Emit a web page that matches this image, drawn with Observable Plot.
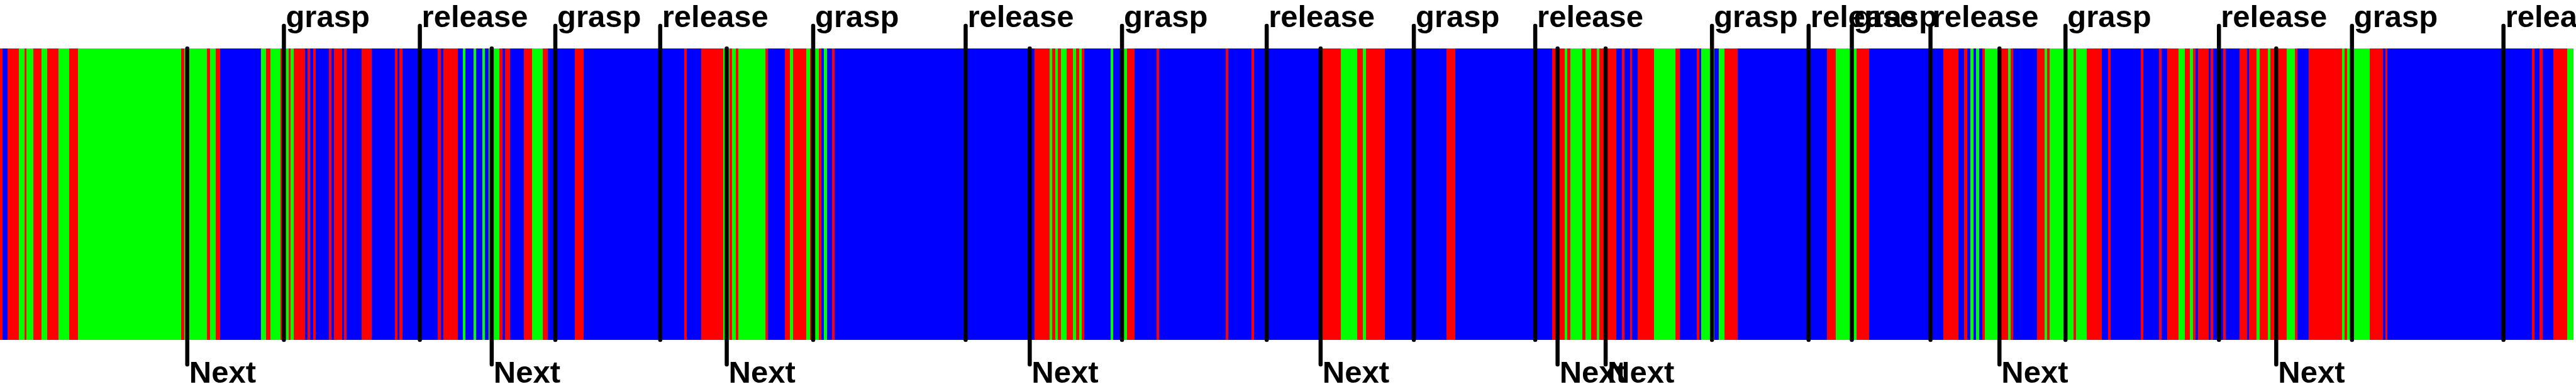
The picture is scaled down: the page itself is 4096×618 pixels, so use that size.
<!DOCTYPE html>
<html><head><meta charset="utf-8">
<script src="https://cdn.jsdelivr.net/npm/d3@7"></script>
<script src="https://cdn.jsdelivr.net/npm/@observablehq/plot@0.6"></script>
<style>html,body{margin:0;padding:0;background:#fff;overflow:hidden}</style>
</head><body><div id="chart"></div>
<script>
// Segments as [start time step, state]; each segment ends where the next begins
const segsA = [[0,"R"],[5,"B"],[15,"R"],[39,"G"],[50,"R"],[55,"G"],[68,"R"],[85,"G"],[97,"R"],[121,"G"],[143,"R"],[160,"G"],[373,"R"],[379,"G"],[426,"R"],[432,"G"],[444,"R"],[453,"B"],[538,"G"],[548,"R"],[557,"G"],[577,"R"],[582,"G"],[594,"R"],[599,"G"],[605,"R"],[628,"B"],[633,"R"],[639,"B"],[645,"R"],[650,"B"],[677,"R"],[683,"B"],[688,"R"],[704,"B"],[709,"R"],[714,"B"],[745,"R"],[766,"B"],[813,"R"],[818,"B"],[823,"R"],[829,"B"]];
const segsB = [[902,"R"],[908,"B"],[913,"R"],[943,"B"],[953,"G"],[959,"B"],[975,"G"],[981,"B"],[994,"G"],[999,"B"],[1006,"G"],[1011,"B"],[1016,"G"],[1029,"R"],[1035,"B"],[1040,"R"],[1050,"B"],[1079,"R"],[1096,"G"],[1118,"R"],[1128,"B"],[1184,"R"],[1202,"B"],[1409,"R"],[1414,"B"],[1444,"R"],[1490,"G"],[1502,"R"],[1508,"G"],[1515,"R"],[1521,"G"],[1576,"R"],[1581,"B"],[1616,"R"],[1627,"G"],[1633,"R"],[1661,"G"],[1668,"R"],[1672,"G"],[1686,"R"],[1691,"B"],[1697,"G"],[1703,"B"],[1714,"R"],[1719,"B"]];
const segsC = [[2130,"R"],[2161,"G"],[2167,"R"],[2173,"G"],[2179,"R"],[2185,"G"],[2197,"R"],[2210,"G"],[2216,"R"],[2222,"G"],[2228,"R"],[2233,"B"],[2287,"G"],[2292,"B"],[2315,"G"],[2321,"R"],[2337,"B"],[2382,"R"],[2387,"B"],[2524,"R"],[2530,"B"],[2577,"R"],[2582,"B"],[2724,"R"],[2761,"G"],[2795,"R"],[2807,"G"],[2813,"R"],[2852,"B"],[2979,"R"],[2997,"B"]];
const segsD = [[3197,"R"],[3223,"G"],[3228,"R"],[3234,"G"],[3259,"R"],[3265,"G"],[3277,"R"],[3289,"G"],[3294,"R"],[3329,"B"],[3340,"R"],[3346,"B"],[3357,"R"],[3361,"B"],[3372,"R"],[3406,"G"],[3450,"R"],[3459,"B"],[3494,"R"],[3499,"B"],[3503,"G"],[3530,"B"],[3540,"G"],[3551,"R"],[3579,"B"],[3762,"R"],[3781,"G"],[3823,"R"],[3849,"B"]];
const segsE = [[4002,"R"],[4033,"B"],[4045,"R"],[4051,"B"],[4058,"G"],[4064,"B"],[4069,"G"],[4076,"B"],[4082,"R"],[4088,"G"],[4113,"R"],[4135,"G"],[4141,"R"],[4146,"B"],[4195,"R"],[4210,"G"],[4216,"R"],[4221,"G"],[4270,"R"],[4275,"G"],[4297,"R"],[4329,"B"],[4341,"R"],[4346,"B"],[4409,"R"],[4414,"B"]];
const segsF = [[4446,"R"],[4451,"B"],[4463,"R"],[4487,"G"],[4499,"R"],[4510,"G"],[4516,"R"],[4522,"B"],[4527,"R"],[4548,"B"],[4553,"R"],[4558,"B"],[4579,"R"],[4584,"B"],[4612,"R"],[4627,"B"],[4631,"R"],[4647,"G"],[4653,"R"],[4670,"G"],[4675,"R"],[4709,"G"],[4726,"R"],[4731,"B"],[4754,"R"],[4823,"G"],[4828,"R"],[4833,"G"],[4880,"R"],[4907,"B"],[4912,"R"],[4917,"B"],[5214,"R"],[5219,"B"],[5230,"R"],[5236,"B"],[5258,"R"],[5287,"G"]];
const seqEnd = 5300;
const stateNames = ["R","G","B"];
const stateColors = ["#ff0000","#00ff00","#0000ff"];

// Annotated events
const topEvents = [584,864,1143,1359,1674,1988,2310,2608,2911,3161,3525,3724,3813,3975,4253,4569,4843,5155];
const topLabels = ["grasp","release","grasp","release","grasp","release","grasp","release","grasp","release","grasp","release","grasp","release","grasp","release","grasp","release"];
const nextEvents = [385,1012,1496,2120,2719,3207,3306,4117,4687];
const nextLabel = "Next";

const all = [...segsA, ...segsB, ...segsC, ...segsD, ...segsE, ...segsF];
const segs = all.map(([start, s], i) => ({x1: start, x2: i + 1 < all.length ? all[i + 1][0] : seqEnd, s}));
const tops = topEvents.map((x, i) => ({x, label: topLabels[i]}));
const nexts = nextEvents.map(x => ({x, label: nextLabel}));

const font = "Liberation Sans, Arial, sans-serif";
const chart = Plot.plot({
  width: 4096,
  height: 618,
  marginLeft: 0,
  marginRight: 0,
  marginTop: 77,
  marginBottom: 78,
  style: {fontFamily: font, background: "#fff"},
  x: {domain: [0, 5305], axis: null},
  color: {domain: stateNames, range: stateColors},
  marks: [
    Plot.rect(segs, {x1: "x1", x2: "x2", fill: "s", shapeRendering: "crispEdges"}),
    Plot.ruleX(tops, {x: "x", stroke: "black", strokeWidth: 6.5, strokeLinecap: "round", insetTop: -36}),
    Plot.ruleX(nexts, {x: "x", stroke: "black", strokeWidth: 6.5, strokeLinecap: "round", insetBottom: -39}),
    Plot.text(tops, {x: "x", text: "label", frameAnchor: "top", textAnchor: "start", lineAnchor: "bottom",
      dx: 3, dy: -35, fontSize: 49, fontWeight: "bold", fontFamily: font, fill: "black"}),
    Plot.text(nexts, {x: "x", text: "label", frameAnchor: "bottom", textAnchor: "start", lineAnchor: "bottom",
      dx: 3, dy: 67, fontSize: 49, fontWeight: "bold", fontFamily: font, fill: "black"})
  ]
});
document.getElementById("chart").appendChild(chart);
</script>
</body></html>
